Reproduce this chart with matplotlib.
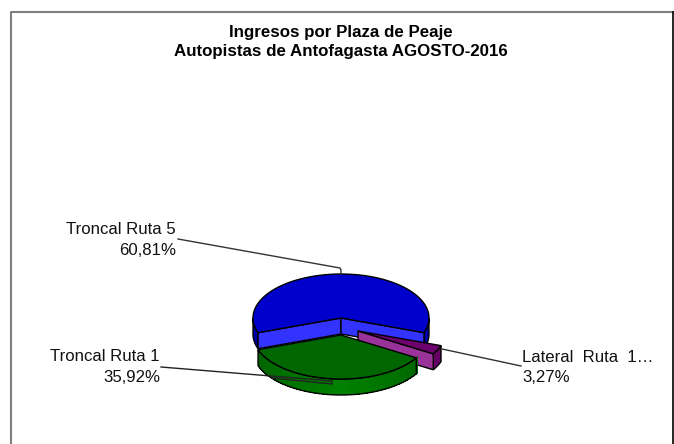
import numpy as np
import matplotlib
matplotlib.use('Agg')
import matplotlib.pyplot as plt
from matplotlib.colors import to_rgb

plazas = ['Troncal Ruta 5', 'Lateral  Ruta  1…', 'Troncal Ruta 1']
shares = [60.81, 3.27, 35.92]
share_labels = ['60,81%', '3,27%', '35,92%']
title = 'Ingresos por Plaza de Peaje\nAutopistas de Antofagasta AGOSTO-2016'

plt.rcParams['font.family'] = ['Liberation Sans', 'DejaVu Sans']

fig = plt.figure(figsize=(6.74, 4.44), dpi=100)
ax = fig.add_axes([0, 0, 1, 1])
ax.set_xlim(0, 674)
ax.set_ylim(444, 0)
ax.axis('off')

# pie geometry in pixels
cx, cy = 341, 318
a, b = 88, 44
depth = 16
start = 199.5  # pie runs clockwise from the left edge of the blue slice


def arc(t0, t1, ox, oy, dz=0, n=80):
    t = np.radians(np.linspace(t0, t1, n))
    return cx + ox + a * np.cos(t), cy + oy + dz - b * np.sin(t)


def wall(t0, t1, ox, oy, color, shade=None):
    # outer side of a slice, only the part facing the viewer (180..360)
    lo, hi = max(min(t0, t1), 180), min(max(t0, t1), 360)
    if hi <= lo:
        return
    if shade is not None:
        # green side gets a soft light in the middle
        edges = np.linspace(lo, hi, 60)
        for e0, e1 in zip(edges[:-1], edges[1:]):
            x1, y1 = arc(e0, e1 + 2, ox, oy, n=4)
            x2, y2 = arc(e1 + 2, e0, ox, oy, depth, n=4)
            k = 1 - abs((e0 + e1) / 2 - 270) / 90
            c = np.array(to_rgb(shade)) * (1 - k) + np.array(to_rgb(color)) * k
            ax.fill(np.r_[x1, x2], np.r_[y1, y2], fc=c, ec='none', antialiased=False)
    x1, y1 = arc(lo, hi, ox, oy)
    x2, y2 = arc(hi, lo, ox, oy, depth)
    ax.fill(np.r_[x1, x2], np.r_[y1, y2], fc=color if shade is None else 'none', ec='black', lw=1)


def cut_face(t, ox, oy, color):
    ex, ey = arc(t, t, ox, oy, n=1)
    px = [cx + ox, ex[0], ex[0], cx + ox]
    py = [cy + oy, ey[0], ey[0] + depth, cy + oy + depth]
    ax.fill(px, py, fc=color, ec='black', lw=1)


def top(t0, t1, ox, oy, color):
    x, y = arc(t0, t1, ox, oy)
    ax.fill(np.r_[cx + ox, x], np.r_[cy + oy, y], fc=color, ec='black', lw=1)


# slice angles come from the shares, clockwise
angs = start - np.r_[0, np.cumsum(shares)] * 3.6
b0, b1 = angs[0], angs[1]
p0, p1 = angs[1], angs[2]
g0, g1 = angs[2], angs[3]

# blue
wall(b0, 180, 0, 0, '#0000A8')
wall(b1 + 360, 360, 0, 0, '#0000A8')
cut_face(b0, 0, 0, '#3333FF')
cut_face(b1, 0, 0, '#3333FF')
top(b0, b1, 0, 0, '#0000CC')

# purple
ox, oy = 17, 13
wall(p0 + 360, p1 + 360, ox, oy, '#660066')
cut_face(p1, ox, oy, '#993399')
top(p0, p1, ox, oy, '#6E006E')

# green
ox, oy = 0, 17
wall(g0 + 360, g1 + 360, ox, oy, '#008000', shade='#005C00')
top(g0, g1, ox, oy, '#006600')

# leaders
ax.plot([178, 340, 341, 341], [239, 268, 270, 274], color='#333333', lw=1)
ax.plot([442, 521], [349, 366], color='#333333', lw=1)
ax.plot([161, 332, 332, 272], [367, 381, 384, 378], color='#222222', lw=1)

# texts
ax.text(341, 32, title.split('\n')[0], ha='center', va='center', fontsize=12.15, fontweight='bold', color='black')
ax.text(341, 51.5, title.split('\n')[1], ha='center', va='center', fontsize=12.15, fontweight='bold', color='black')
ax.text(176, 229, plazas[0], ha='right', va='center', fontsize=12.1, color='#111111')
ax.text(176, 250, share_labels[0], ha='right', va='center', fontsize=12.1, color='#111111')
ax.text(160, 356, plazas[2], ha='right', va='center', fontsize=12.1, color='#111111')
ax.text(160, 377, share_labels[2], ha='right', va='center', fontsize=12.1, color='#111111')
ax.text(522, 357, plazas[1], ha='left', va='center', fontsize=12.1, color='#111111')
ax.text(522, 377, share_labels[1], ha='left', va='center', fontsize=12.1, color='#111111')

# chart frame, runs off the bottom of the picture
ax.plot([10.5, 10.5, 673], [444, 12, 12], color='#808080', lw=1.5)
ax.plot([673, 673], [12, 444], color='black', lw=1.2)

fig.savefig('out.png', dpi=100)
